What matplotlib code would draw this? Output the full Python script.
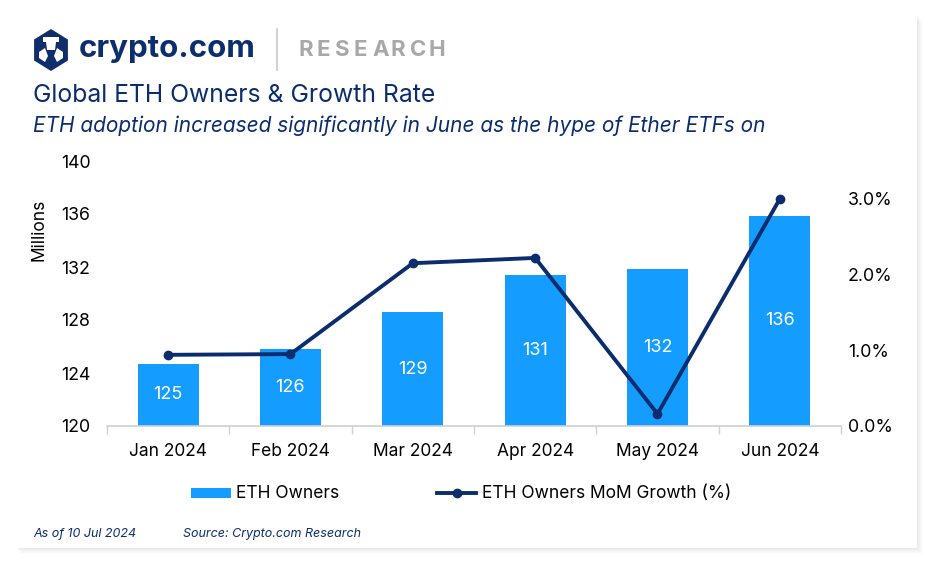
import numpy as np
import matplotlib
matplotlib.use("Agg")
import matplotlib.pyplot as plt
from matplotlib.patches import FancyBboxPatch, Polygon, Rectangle
from matplotlib.lines import Line2D
from matplotlib.ticker import FuncFormatter

plt.rcParams['font.family'] = ['Inter', 'DejaVu Sans']

months = ["Jan 2024", "Feb 2024", "Mar 2024", "Apr 2024", "May 2024", "Jun 2024"]
owners = [124.7, 125.8, 128.6, 131.4, 131.85, 135.85]
owner_labels = ["125", "126", "129", "131", "132", "136"]
growth = [0.94, 0.95, 2.15, 2.22, 0.16, 3.0]

bar_color = "#149DFF"
line_color = "#0B2D6E"
navy = "#0B2D6E"

fig = plt.figure(figsize=(9.41, 5.72), dpi=100)
fig.patch.set_facecolor("white")

# card with soft shadow
W, H = 941, 572
def px(x, y):
    return x / W, 1 - y / H

for i in range(8):
    off = i * 0.8
    sh = FancyBboxPatch(px(15 + off, 548 + off), (917 - 15) / W, (548 - 15) / H,
                        boxstyle="square,pad=0", transform=fig.transFigure,
                        facecolor="black", edgecolor="none", alpha=0.012, zorder=0)
    fig.patches.append(sh)
card = Rectangle(px(15, 548), (917 - 15) / W, (548 - 15) / H, transform=fig.transFigure,
                 facecolor="white", edgecolor="none", zorder=1)
fig.patches.append(card)

# logo hexagon
cx, cy, r = 51, 50, 21
ang = np.deg2rad(np.arange(90, 450, 60))
hx = [(cx + r * 0.93 * np.cos(a)) / W for a in ang]
hy = [1 - (cy - r * np.sin(a)) / H for a in ang]
fig.patches.append(Polygon(list(zip(hx, hy)), closed=True, transform=fig.transFigure,
                           facecolor="#102E6B", edgecolor="none", zorder=2))
# simple lion shapes
shapes = [
    [(43, 37), (59, 37), (59, 42), (56, 42), (55, 50), (47, 50), (46, 42), (43, 42)],
    [(39, 52), (45, 48), (48, 56), (45, 62), (39, 58)],
    [(63, 52), (57, 48), (54, 56), (57, 62), (63, 58)],
]
for s in shapes:
    fig.patches.append(Polygon([px(a, b) for a, b in s], closed=True, transform=fig.transFigure,
                               facecolor="white", edgecolor="none", zorder=3))

fig.text(79 / W, 1 - 49 / H, "crypto.com", fontsize=22.5, fontweight="bold", color="#0C2E6D",
         va="center", ha="left", zorder=4)
fig.lines.append(Line2D([277 / W, 277 / W], [1 - 29 / H, 1 - 70 / H], transform=fig.transFigure,
                        color="#C8C8C8", lw=1.2, zorder=4))
for i, ch in enumerate("RESEARCH"):
    fig.text((298 + i * 18.6) / W, 1 - 50 / H, ch, fontsize=16, fontweight="bold", color="#A8A8A8",
             va="center", ha="left", zorder=4)

fig.text(33 / W, 1 - 95 / H, "Global ETH Owners & Growth Rate", fontsize=17.8, color=navy,
         va="center", ha="left", zorder=4)
fig.text(33 / W, 1 - 126 / H, "ETH adoption increased significantly in June as the hype of Ether ETFs on",
         fontsize=15, style="italic", color=navy, va="center", ha="left", zorder=4)

ax = fig.add_axes([107 / W, 1 - 426 / H, (841 - 107) / W, (426 - 161) / H])
ax.set_zorder(5)
ax.patch.set_alpha(0)
x = np.arange(len(months))
bars = ax.bar(x, np.array(owners) - 120, bottom=120, width=0.5, color=bar_color, zorder=2)
for xi, v, lab in zip(x, owners, owner_labels):
    ax.text(xi, 120 + (v - 120) / 2, lab, ha="center", va="center", color="white", fontsize=13, zorder=3)

ax.set_xlim(-0.5, len(months) - 0.5)
ax.set_ylim(120, 140)
ax.set_yticks([120, 124, 128, 132, 136, 140])
ax.set_xticks(x)
ax.set_xticklabels(months, fontsize=12.5)
ax.set_xticks(np.arange(-0.5, len(months)), minor=True)
ax.tick_params(axis="x", which="major", length=0, pad=12)
ax.tick_params(axis="x", which="minor", length=6, color="#D0D0D0", width=1)
ax.tick_params(axis="y", length=0, labelsize=12.8, pad=12)
for s in ["top", "right", "left"]:
    ax.spines[s].set_visible(False)
ax.spines["bottom"].set_color("#D0D0D0")
ax.spines["bottom"].set_linewidth(1.2)
ax.set_ylabel("Millions", fontsize=12.5, labelpad=6)
ax.yaxis.set_label_coords(-0.081, 0.74)

ax2 = ax.twinx()
ax2.plot(x, growth, color=line_color, lw=2.8, marker="o", markersize=6, zorder=4)
ax2.set_ylim(0, 3.5)
ax2.set_yticks([0, 1, 2, 3])
ax2.yaxis.set_major_formatter(FuncFormatter(lambda v, p: f"{v:.1f}%"))
ax2.tick_params(axis="y", length=0, labelsize=12.8, pad=5)
for s in ["top", "right", "left", "bottom"]:
    ax2.spines[s].set_visible(False)

# legend
fig.patches.append(Rectangle(px(191, 498), 40 / W, 10 / H, transform=fig.transFigure,
                             facecolor=bar_color, edgecolor="none", zorder=4))
fig.text(236 / W, 1 - 493 / H, "ETH Owners", fontsize=12.5, va="center", ha="left", zorder=4)
fig.lines.append(Line2D([437 / W, 476 / W], [1 - 493 / H, 1 - 493 / H], transform=fig.transFigure,
                        color=line_color, lw=2.8, zorder=4))
fig.lines.append(Line2D([457 / W], [1 - 493 / H], transform=fig.transFigure, marker="o",
                        markersize=6, color=line_color, zorder=4))
fig.text(482 / W, 1 - 493 / H, "ETH Owners MoM Growth (%)", fontsize=12.5, va="center", ha="left", zorder=4)

fig.text(33 / W, 1 - 534 / H, "As of 10 Jul 2024", fontsize=9, style="italic", color=navy,
         va="center", ha="left", zorder=4)
fig.text(183 / W, 1 - 534 / H, "Source: Crypto.com Research", fontsize=9, style="italic", color=navy,
         va="center", ha="left", zorder=4)

fig.savefig("out.png", dpi=100)
